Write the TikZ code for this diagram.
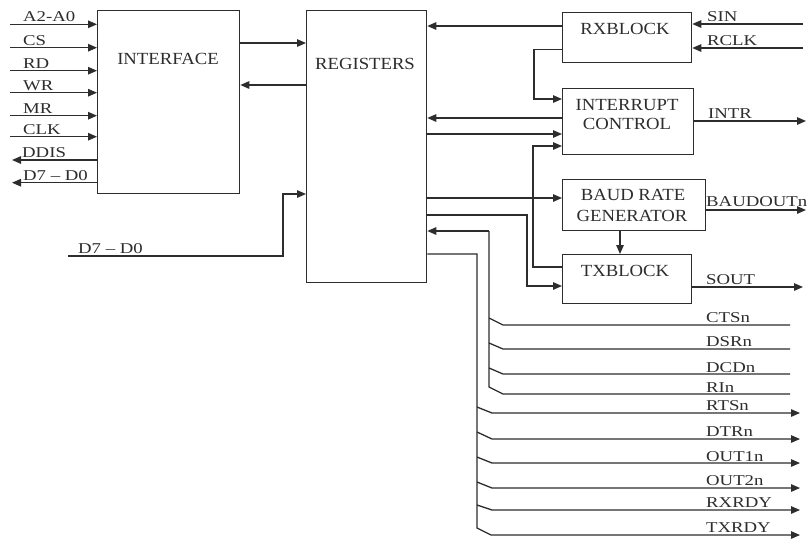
\documentclass[tikz,border=0pt]{standalone}
\usepackage{fontspec}
\newfontfamily\sigf{Liberation Serif}[FakeStretch=1.25]
\newfontfamily\blkf{Liberation Serif}[FakeStretch=1.1]
\usetikzlibrary{arrows.meta}
\definecolor{ink}{RGB}{45,45,45}
\begin{document}
\begin{tikzpicture}[x=1pt,y=-1pt,
  box/.style={draw=ink, line width=1.3pt, inner sep=0pt, anchor=north west},
  sig/.style={font=\sigf\fontsize{15}{15}\selectfont, text=ink, inner sep=0pt, anchor=base west},
  blk/.style={font=\blkf\fontsize{17}{17}\selectfont, text=ink, inner sep=0pt, anchor=base},
  wire/.style={draw=ink, line width=1.3pt},
  arr/.style={wire, -{Triangle[length=9pt,width=7.5pt]}}]
\useasboundingbox (0,0) rectangle (811,539);
\fill[white] (0,0) rectangle (811,539);

% blocks
\node[box, minimum width=142pt, minimum height=183pt] (iface) at (97,10) {};
\node[box, minimum width=120pt, minimum height=272pt] (regs) at (306,10) {};
\node[box, minimum width=129pt, minimum height=50pt] (rx) at (562,12) {};
\node[box, minimum width=131pt, minimum height=66pt] (intc) at (562,88) {};
\node[box, minimum width=143pt, minimum height=51pt] (baud) at (562,179) {};
\node[box, minimum width=129pt, minimum height=49pt] (tx) at (562,254) {};

% block labels
\node[blk] (tiface) at (168,64) {INTERFACE};
\node[blk] (tregs) at (365,69) {REGISTERS};
\node[blk] (trx) at (625,34) {RXBLOCK};
\node[blk] (tint1) at (627,110) {INTERRUPT};
\node[blk] (tint2) at (627,129) {CONTROL};
\node[blk] (tbaud1) at (633,200) {BAUD RATE};
\node[blk] (tbaud2) at (632,221) {GENERATOR};
\node[blk] (ttx) at (625,276) {TXBLOCK};

% left side signals
\coordinate (a2) at (10,24.3);
\coordinate (cs) at (10,47.7);
\coordinate (rd) at (10,70.7);
\coordinate (wr) at (10,92.7);
\coordinate (mr) at (10,115.7);
\coordinate (clk) at (10,136.7);
\coordinate (ddis) at (12,160);
\coordinate (dl) at (12,182.7);
\foreach \c in {a2,cs,rd,wr,mr,clk}{\draw[arr] (\c) -- (\c -| iface.west);}
\draw[arr] (ddis -| iface.west) -- (ddis);
\draw[arr] (dl -| iface.west) -- (dl);
\node[sig] (la2) at (23,21.5) {A2-A0};
\node[sig] (lcs) at (23,45) {CS};
\node[sig] (lrd) at (23,68) {RD};
\node[sig] (lwr) at (23,90) {WR};
\node[sig] (lmr) at (23,113) {MR};
\node[sig] (lclk) at (23,134) {CLK};
\node[sig] (lddis) at (22,157.5) {DDIS};
\node[sig] (ldl) at (23,180) {D7 – D0};

% interface <-> registers
\coordinate (h43) at (0,43);
\coordinate (h85) at (0,85);
\draw[arr] (h43 -| iface.east) -- (h43 -| regs.west);
\draw[arr] (h85 -| regs.west) -- (h85 -| iface.east);

% lower data bus
\coordinate (db) at (68,256);
\coordinate (dbk) at (283,256);
\coordinate (h194) at (0,194);
\draw[arr] (db) -- (dbk) |- (h194 -| regs.west);
\node[sig] (ldb) at (78,253) {D7 – D0};

% RX block
\coordinate (sin) at (803,24);
\coordinate (rclk) at (803,48);
\draw[arr] (sin) -- (sin -| rx.east);
\draw[arr] (rclk) -- (rclk -| rx.east);
\node[sig] (lsin) at (707,21) {SIN};
\node[sig] (lrclk) at (707,45) {RCLK};
\coordinate (h26) at (0,26);
\draw[arr] (h26 -| rx.west) -- (h26 -| regs.east);
\coordinate (k49) at (534,49.5);
\coordinate (k99) at (534,99);
\draw[arr] (k49 -| rx.west) -- (k49) -- (k99) -- (k99 -| intc.west);

% interrupt control
\coordinate (h118) at (0,118);
\coordinate (h134) at (0,134);
\draw[arr] (h118 -| intc.west) -- (h118 -| regs.east);
\draw[arr] (h134 -| regs.east) -- (h134 -| intc.west);
\coordinate (intr) at (806,121);
\draw[arr] (intr -| intc.east) -- (intr);
\node[sig] (lintr) at (708,118) {INTR};
\coordinate (k267) at (533,267);
\coordinate (k146) at (533,146);
\draw[arr] (k267 -| tx.west) -- (k267) -- (k146) -- (k146 -| intc.west);

% baud rate generator
\coordinate (h198) at (0,198);
\draw[arr] (h198 -| regs.east) -- (h198 -| baud.west);
\coordinate (bout) at (806,210);
\draw[arr] (bout -| baud.east) -- (bout);
\node[sig] (lbout) at (706,206.5) {BAUDOUTn};
\coordinate (bt) at (620,0);
\draw[arr] (bt |- baud.south) -- (bt |- tx.north);

% TX block
\coordinate (m215) at (527,215);
\coordinate (m286) at (527,286);
\draw[arr] (m215 -| regs.east) -- (m215) -- (m286) -- (m286 -| tx.west);
\coordinate (sout) at (803,287);
\draw[arr] (sout -| tx.east) -- (sout);
\node[sig] (lsout) at (706,284) {SOUT};

% input bus (modem status)
\coordinate (bi) at (489,231);
\coordinate (cts) at (790,325);
\coordinate (dsr) at (790,349);
\coordinate (dcd) at (790,374);
\coordinate (rin) at (790,394);
\draw[arr] (bi) -- (bi -| regs.east);
\draw[wire] (bi) -- (489,387) -- (503,394) -- (rin);
\draw[wire] (489,318) -- (503,325) -- (cts);
\draw[wire] (489,343) -- (503,349) -- (dsr);
\draw[wire] (489,368) -- (503,374) -- (dcd);
\node[sig] (lcts) at (706,322) {CTSn};
\node[sig] (ldsr) at (706,346) {DSRn};
\node[sig] (ldcd) at (706,372) {DCDn};
\node[sig] (lrin) at (706,392) {RIn};

% output bus
\coordinate (bo) at (477,254);
\coordinate (rts) at (800,413);
\coordinate (dtr) at (800,439);
\coordinate (out1) at (800,463);
\coordinate (out2) at (800,488);
\coordinate (rxr) at (800,510);
\coordinate (txr) at (800,535);
\draw[arr] (bo -| regs.east) -- (bo) -- (477,528) -- (491,535) -- (txr);
\draw[arr] (477,407) -- (492,413) -- (rts);
\draw[arr] (477,432) -- (492,439) -- (dtr);
\draw[arr] (477,457) -- (492,463) -- (out1);
\draw[arr] (477,482) -- (492,488) -- (out2);
\draw[arr] (477,505) -- (492,510) -- (rxr);
\node[sig] (lrts) at (706,410) {RTSn};
\node[sig] (ldtr) at (706,436) {DTRn};
\node[sig] (lout1) at (706,461) {OUT1n};
\node[sig] (lout2) at (706,485) {OUT2n};
\node[sig] (lrxr) at (706,507) {RXRDY};
\node[sig] (ltxr) at (706,532) {TXRDY};
\end{tikzpicture}
\end{document}
